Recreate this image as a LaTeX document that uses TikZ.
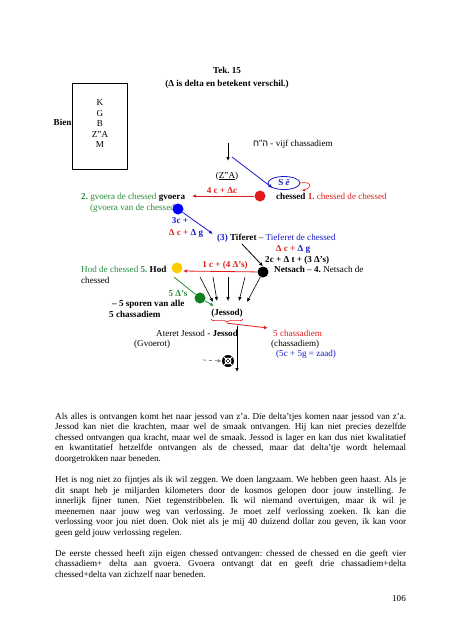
\documentclass[tikz,border=0pt]{standalone}
\usepackage{fontspec}
\setmainfont{Liberation Serif}
\newfontfamily\hebfont[Script=Hebrew]{Liberation Sans}
\TeXXeTstate=1
\frenchspacing
\usetikzlibrary{arrows.meta,shapes.geometric,decorations.pathreplacing}
\definecolor{kred}{RGB}{226,28,28}
\definecolor{kblue}{RGB}{24,24,200}
\definecolor{kgreen}{RGB}{40,140,60}
\definecolor{kdkgreen}{RGB}{16,128,32}
\definecolor{kgold}{RGB}{255,204,0}
\tikzset{
  dot/.style={circle, minimum size=11pt, inner sep=0pt},
  lbl/.style={anchor=base west},
  arr/.style={-{Latex[length=4pt,width=3.5pt]}, line width=0.8pt},
  para/.style={anchor=north west, text width=351pt, align=justify},
}
\begin{document}
\begin{tikzpicture}[x=1pt,y=-1pt,
  every node/.style={font=\fontsize{9.1}{10.5}\selectfont, inner sep=0pt}]
\useasboundingbox (0,0) rectangle (453,640);

% title
\node[anchor=base] (title) at (227,73) {\textbf{Tek. 15}};
\node[anchor=base] (subtitle) at (227,86) {\textbf{(Δ is delta en betekent verschil.)}};

% box on the left
\node[draw, line width=0.8pt, minimum width=55pt, minimum height=86pt] (box) at (99.5,126) {};
\node[anchor=north, align=center] (letters) at (100,99.5) {K\\G\\B\\Z"A\\M};
\node[anchor=base east] (bien) at (box.west |- 0,125.5) {\textbf{Bien}};

% top
\coordinate (zaTop) at (228,143);
\coordinate (zaEnd) at (228,161);
\draw[arr] (zaTop) -- (zaEnd);
\node[lbl] (heb) at (253,146.5) {{\hebfont\beginR ה"ח\endR} - vijf chassadiem};
\node[anchor=base] (za) at (227,178) {(\underline{Z"A})};

% chessed
\node[dot, fill=kred] (chessed) at (260,196) {};
\node[draw=kblue, line width=0.8pt, ellipse, minimum width=32pt, minimum height=13pt,
  text=kblue] (se) at (284,183) {\textbf{S \textit{ē}}};
\coordinate (blueStart) at (232,157);
\draw[arr, kblue] (blueStart) -- (se.south west);
\coordinate (loopEnd) at (302,191);
\draw[-{Latex[length=3pt,width=3pt]}, kred, line width=0.6pt] (se.east) .. controls (311,181) and (313,187) .. (loopEnd);
\node[lbl] (chessedTxt) at (276,199) {\textbf{chessed} \textcolor{kred}{\textbf{1.} chessed de chessed}};

% gvoera
\coordinate (gvTip) at (192,196);
\draw[arr, kred] (chessed) -- (gvTip);
\node[anchor=base, text=kred] (fourC) at (222,193) {\textbf{4 c + Δc}};
\node[lbl] (gvoeraTxt) at (81,199) {\textcolor{kgreen}{\textbf{2.} gvoera de chessed} \textbf{gvoera}};
\node[lbl, text=kgreen] (gvoeraTxt2) at (90,210) {(gvoera van de chessed)};
\node[dot, fill=blue] (gvoera) at (178,209) {};
\coordinate (tifTip) at (213,234);
\draw[arr, kblue] (gvoera) -- (tifTip);
\node[anchor=base, text=kblue] (threeC) at (180,223) {\textbf{3c +}};
\node[anchor=base] (dcg1) at (186,235) {\textbf{\textcolor{kred}{Δ c +} \textcolor{kblue}{Δ g}}};

% tiferet
\node[lbl] (tiferet) at (217,240) {\textcolor{kblue}{\textbf{(3)}} \textbf{Tiferet} – \textcolor{kblue}{Tieferet de chessed}};
\node[anchor=base] (dcg2) at (293,251) {\textbf{\textcolor{kred}{Δ c +} \textcolor{kblue}{Δ g}}};
\node[lbl] (twoC) at (265,262) {\textbf{2c + Δ t + (3 Δ's)}};
\coordinate (tifStart) at (242,244);
\node[dot, fill=black] (netsach) at (263,272) {};
\draw[arr] (tifStart) -- (netsach.north);
\node[lbl] (netsachTxt) at (274,272) {\textbf{Netsach} – \textbf{4.} Netsach de};

% hod
\node[dot, fill=kgold] (hod) at (177,268) {};
\coordinate (hodTip) at (183,271);
\draw[arr, kred] (netsach) -- (hodTip);
\node[anchor=base, text=kred] (oneC) at (225,267) {\textbf{1 c + (4 Δ's)}};
\node[lbl] (hodTxt) at (81,272) {\textcolor{kgreen}{Hod de chessed \textbf{5.}} \textbf{Hod}};
\node[lbl] (hodTxt2) at (81,283) {chessed};

% green
\node[dot, fill=kdkgreen] (green) at (200,298) {};
\coordinate (greenStart) at (174,277);
\coordinate (greenTip) at (214,306);
\draw[kgreen, line width=0.8pt] (greenStart) -- (green);
\draw[arr, kgreen] (green) -- (greenTip);
\node[anchor=base, text=kgreen] (fiveD) at (178,296) {\textbf{5 Δ's}};
\node[lbl] (sporen) at (112,306) {\textbf{– 5 sporen van alle}};
\node[lbl] (sporen2) at (109,317) {\textbf{5 chassadiem}};

% jessod
\node[anchor=base] (jessod) at (227,315) {\textbf{(Jessod)}};
\coordinate (j1) at (200,277);
\coordinate (j2) at (213,277);
\coordinate (j3) at (228,277);
\coordinate (j4) at (245,277);
\coordinate (e1) at (213,302);
\coordinate (e2) at (217,301);
\coordinate (e3) at (228,301);
\coordinate (e4) at (239,301);
\coordinate (e5) at (247,302);
\draw[arr, line width=0.6pt] (j1) -- (e1);
\draw[arr, line width=0.6pt] (j2) -- (e2);
\draw[arr, line width=0.6pt] (j3) -- (e3);
\draw[arr, line width=0.6pt] (j4) -- (e4);
\draw[arr, line width=0.6pt] (netsach) -- (e5);
\draw[kred, line width=0.7pt, decorate, decoration={brace, mirror, amplitude=3pt}]
  ([yshift=-2pt]jessod.south west) -- ([yshift=-2pt]jessod.south east);
\coordinate (braceTip) at ([yshift=-6pt]jessod.south);
\coordinate (zaadTip) at (268,328);
\draw[arr, kred] (braceTip) -- (zaadTip);

% bottom
\node[lbl] (ateret) at (156,336) {Ateret Jessod - \textbf{Jessod}};
\node[lbl] (gvoerot) at (134,346) {(Gvoerot)};
\coordinate (downTop) at (237,326);
\coordinate (downEnd) at (237,372);
\draw[arr] (downTop) -- (downEnd);
\node[circle, fill=black, minimum size=12pt] (seed) at (228,361) {};
\draw[white, line width=0.9pt] (seed.center) circle (3pt);
\draw[white, line width=0.9pt] (seed.north west) -- (seed.south east) (seed.north east) -- (seed.south west);
\coordinate (dashStart) at (203,360);
\draw[arr, dashed, gray, line width=0.8pt] (dashStart) -- (seed.west);
\node[lbl, text=kred] (fiveCh) at (273,336) {5 chassadiem};
\node[lbl] (chass) at (271,346) {(chassadiem)};
\node[lbl, text=kblue] (zaad) at (276,356) {(5c + 5g = zaad)};

% text below
\node[para] (par1) at (55,412.5) {Als alles is ontvangen komt het naar jessod van z'a. Die delta'tjes komen naar jessod van z'a.\linebreak
Jessod kan niet die krachten, maar wel de smaak ontvangen. Hij kan niet precies dezelfde\linebreak
chessed ontvangen qua kracht, maar wel de smaak. Jessod is lager en kan dus niet kwalitatief\linebreak
en kwantitatief hetzelfde ontvangen als de chessed, maar dat delta'tje wordt helemaal\linebreak
doorgetrokken naar beneden.};
\node[para] (par2) at (55,476) {Het is nog niet zo fijntjes als ik wil zeggen. We doen langzaam. We hebben geen haast. Als je\linebreak
dit snapt heb je miljarden kilometers door de kosmos gelopen door jouw instelling. Je\linebreak
innerlijk fijner tunen. Niet tegenstribbelen. Ik wil niemand overtuigen, maar ik wil je\linebreak
meenemen naar jouw weg van verlossing. Je moet zelf verlossing zoeken. Ik kan die\linebreak
verlossing voor jou niet doen. Ook niet als je mij 40 duizend dollar zou geven, ik kan voor\linebreak
geen geld jouw verlossing regelen.};
\node[para] (par3) at (55,549.5) {De eerste chessed heeft zijn eigen chessed ontvangen: chessed de chessed en die geeft vier\linebreak
chassadiem+ delta aan gvoera. Gvoera ontvangt dat en geeft drie chassadiem+delta\linebreak
chessed+delta van zichzelf naar beneden.};
\node[anchor=base east] (pagenr) at (406,601) {106};
\end{tikzpicture}
\end{document}
